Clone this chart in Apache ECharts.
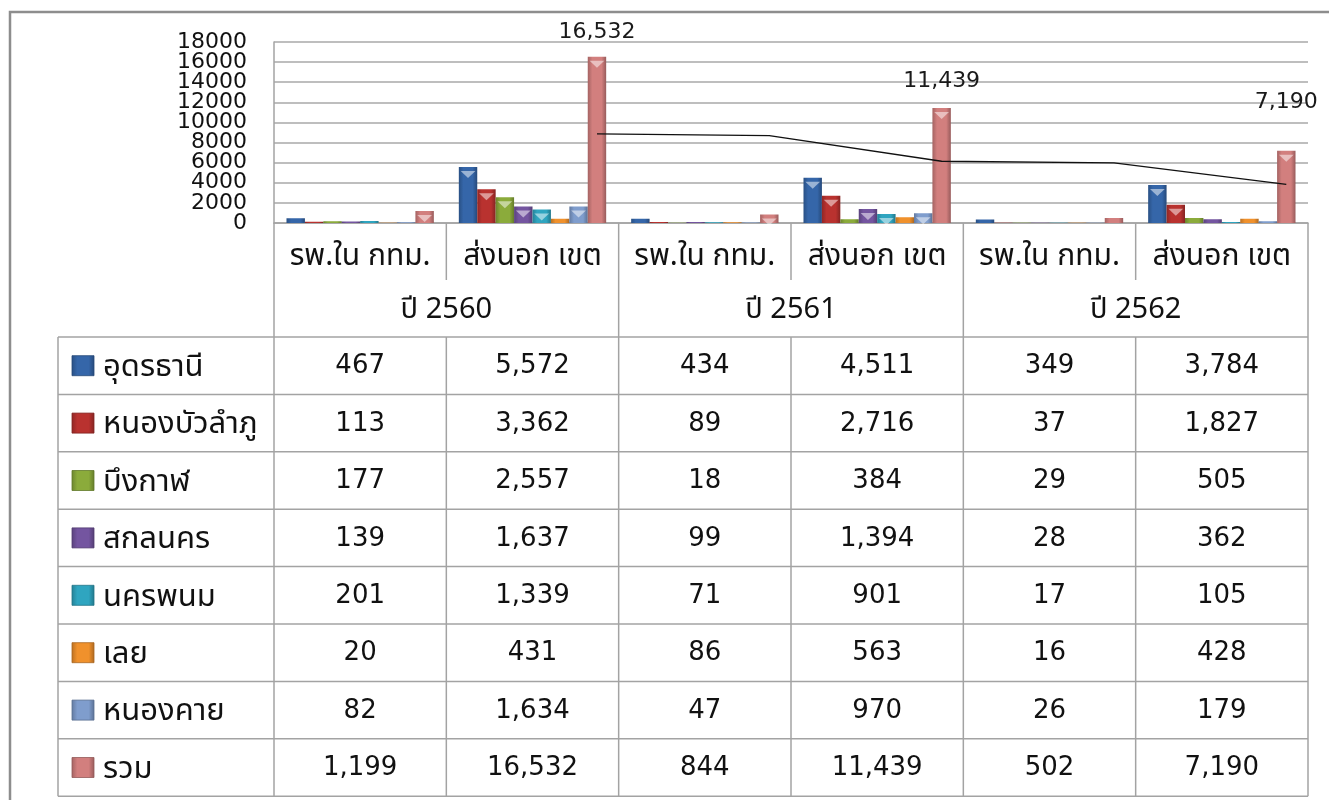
<!DOCTYPE html>
<html>
<head>
<meta charset="utf-8">
<script src="https://cdn.jsdelivr.net/npm/echarts@6/dist/echarts.min.js"></script>
<style>
  html, body { margin: 0; padding: 0; background: #fff; }
  #chart { width: 1329px; height: 800px; }
</style>
</head>
<body>
<div id="chart"></div>
<script>
// categories + year groups
const categories = ['รพ.ใน กทม.', 'ส่งนอก เขต', 'รพ.ใน กทม.', 'ส่งนอก เขต', 'รพ.ใน กทม.', 'ส่งนอก เขต'];
const years = ['ปี 2560', 'ปี 2561', 'ปี 2562'];
const provinces = ['อุดรธานี', 'หนองบัวลำภู', 'บึงกาฬ', 'สกลนคร', 'นครพนม', 'เลย', 'หนองคาย', 'รวม'];

// series values (same order as provinces)
const udonthani = [467, 5572, 434, 4511, 349, 3784];
const nongbualamphu = [113, 3362, 89, 2716, 37, 1827];
const buengkan = [177, 2557, 18, 384, 29, 505];
const sakonnakhon = [139, 1637, 99, 1394, 28, 362];
const nakhonphanom = [201, 1339, 71, 901, 17, 105];
const loei = [20, 431, 86, 563, 16, 428];
const nongkhai = [82, 1634, 47, 970, 26, 179];
const total = [1199, 16532, 844, 11439, 502, 7190];

// 2-period moving average trend line on "รวม" (starts at the 2nd category)
const trendValues = [8866, 8688, 6142, 5971, 3846];

// y axis ticks
const yTicks = [0, 2000, 4000, 6000, 8000, 10000, 12000, 14000, 16000, 18000];

const seriesValues = [udonthani, nongbualamphu, buengkan, sakonnakhon, nakhonphanom, loei, nongkhai, total];
const colors = ['#3566a9', '#b9322f', '#8bab3b', '#7455a0', '#2fa5c0', '#f0912c', '#7f9dcd', '#d27f7e'];

// layout
const GL = 274, GR = 1308, GT = 42, GB = 223;
const colW = (GR - GL) / 6;
const tableLeft = 58;
const headSplit = 280;
const rowTop = 337;
const rowH = 57.4;
const gapPct = 14.5;
const lineColor = '#a3a3a3';
const numFont = "'DejaVu Sans', Verdana, sans-serif";
const thaiFont = "Tahoma, 'Noto Sans Thai', 'Noto Sans', 'DejaVu Sans', sans-serif";

function shade(hex, f) {
    const n = parseInt(hex.slice(1), 16);
    let r = (n >> 16) & 255, g = (n >> 8) & 255, b = n & 255;
    r = Math.round(r * f); g = Math.round(g * f); b = Math.round(b * f);
    return 'rgb(' + Math.min(r, 255) + ',' + Math.min(g, 255) + ',' + Math.min(b, 255) + ')';
}

function bevel(c) {
    return new echarts.graphic.LinearGradient(0, 0, 1, 0, [
        { offset: 0, color: shade(c, 0.78) },
        { offset: 0.25, color: c },
        { offset: 0.75, color: c },
        { offset: 1, color: shade(c, 0.72) }
    ]);
}

const fmt = v => v.toLocaleString('en-US');

// per-item label distances for the total bars
const labelDist = { 1: 13, 3: 16, 5: 37 };

const barSeries = provinces.map((name, s) => ({
    name: name,
    type: 'bar',
    barGap: '0%',
    barCategoryGap: gapPct + '%',
    itemStyle: { color: bevel(colors[s]) },
    data: seriesValues[s].map((v, i) => {
        if (s === 7 && labelDist[i] !== undefined) {
            return {
                value: v,
                label: {
                    show: true, position: 'top', distance: labelDist[i],
                    formatter: p => fmt(p.value),
                    fontFamily: numFont, fontSize: 22, color: '#1a1a1a'
                }
            };
        }
        return v;
    })
}));

// light "v" cap on top of each bar (Excel bevel look)
const capSeries = provinces.map((name, s) => ({
    name: name + '-cap',
    type: 'pictorialBar',
    barGap: '0%',
    barCategoryGap: gapPct + '%',
    symbol: 'path://M0,0 L10,0 L5,5 Z',
    symbolPosition: 'end',
    symbolSize: ['80%', 7],
    symbolOffset: [0, 4],
    silent: true,
    z: 3,
    itemStyle: { color: 'rgba(255,255,255,0.5)' },
    data: seriesValues[s].map(v => v >= 700 ? v : { value: v, symbolSize: [0, 0] })
}));

// where the total bar sits inside its category (in category units)
const barShare = (1 - gapPct / 100) / 8;
const totalOffset = 0.5 + 3.5 * barShare;

const trendSeries = {
    name: 'trend',
    type: 'line',
    xAxisIndex: 1,
    yAxisIndex: 0,
    symbol: 'none',
    lineStyle: { color: '#111', width: 1.3 },
    z: 5,
    data: trendValues.map((v, i) => [i + 1 + totalOffset, v])
};

// ---- data table drawn with graphic elements ----
const graphics = [];
const line = (x1, y1, x2, y2, w) => graphics.push({
    type: 'line', silent: true,
    shape: { x1, y1, x2, y2 },
    style: { stroke: lineColor, lineWidth: w || 1.5 }
});
const text = (x, y, t, font, size, align, list) => (list || graphics).push({
    type: 'text', silent: true, x, y,
    style: { text: t, fontFamily: font, fontSize: size, fill: '#111', align: align || 'center', verticalAlign: 'middle' }
});

// outer frame
graphics.push({ type: 'rect', silent: true, shape: { x: 10, y: 12, width: 1340, height: 800 }, style: { fill: null, stroke: '#8d8d8d', lineWidth: 2.5 } });

const tableBottom = rowTop + rowH * provinces.length;
// verticals
line(GL, GB, GL, tableBottom);
for (let k = 1; k <= 6; k++) {
    const x = GL + k * colW;
    if (k % 2 === 0) {
        line(x, GB, x, tableBottom);
    } else {
        line(x, GB, x, headSplit);
        line(x, rowTop, x, tableBottom);
    }
}
line(tableLeft, rowTop, tableLeft, tableBottom);
// horizontals
for (let r = 0; r <= provinces.length; r++) {
    const y = rowTop + r * rowH;
    line(tableLeft, y, GR, y);
}

// header texts
categories.forEach((c, i) => text(GL + (i + 0.5) * colW, 259, c, thaiFont, 30));
years.forEach((y, i) => text(GL + (2 * i + 1) * colW, 312, y, thaiFont, 29));

// rows
provinces.forEach((p, s) => {
    const cy = rowTop + (s + 0.5) * rowH;
    graphics.push({
        type: 'rect', silent: true,
        shape: { x: 72, y: cy - 10, width: 22, height: 20 },
        style: { fill: bevel(colors[s]), stroke: shade(colors[s], 0.7), lineWidth: 0.8 }
    });
    text(103, cy + 4, p, thaiFont, 31, 'left');
    seriesValues[s].forEach((v, i) => text(GL + (i + 0.5) * colW, cy + 1, fmt(v), numFont, 26));
});

const chart = echarts.init(document.getElementById('chart'), null, { renderer: 'canvas' });
chart.setOption({
    animation: false,
    backgroundColor: '#fff',
    grid: { left: GL, top: GT, width: GR - GL, height: GB - GT, containLabel: false },
    xAxis: [
        {
            type: 'category',
            data: categories,
            axisLine: { show: true, lineStyle: { color: lineColor, width: 1.5 } },
            axisTick: { show: false },
            axisLabel: { show: false }
        },
        { type: 'value', min: 0, max: 6, show: false }
    ],
    yAxis: {
        type: 'value',
        min: yTicks[0],
        max: yTicks[yTicks.length - 1],
        interval: yTicks[1] - yTicks[0],
        axisLine: { show: true, lineStyle: { color: lineColor, width: 1.5 } },
        axisTick: { show: false },
        // tick labels sit closer than echarts' overlap check allows, so they are placed below
        axisLabel: { show: false },
        splitLine: { lineStyle: { color: '#a8a8a8', width: 1.5 } }
    },
    series: barSeries.concat(capSeries, [trendSeries]),
    graphic: graphics
});

// y tick labels, positioned through the axis scale
const tickLabels = [];
yTicks.forEach(v => {
    const y = chart.convertToPixel({ yAxisIndex: 0 }, v);
    text(GL - 27, y, String(v), numFont, 22, 'right', tickLabels);
});
chart.setOption({ graphic: graphics.concat(tickLabels) });
</script>
</body>
</html>
